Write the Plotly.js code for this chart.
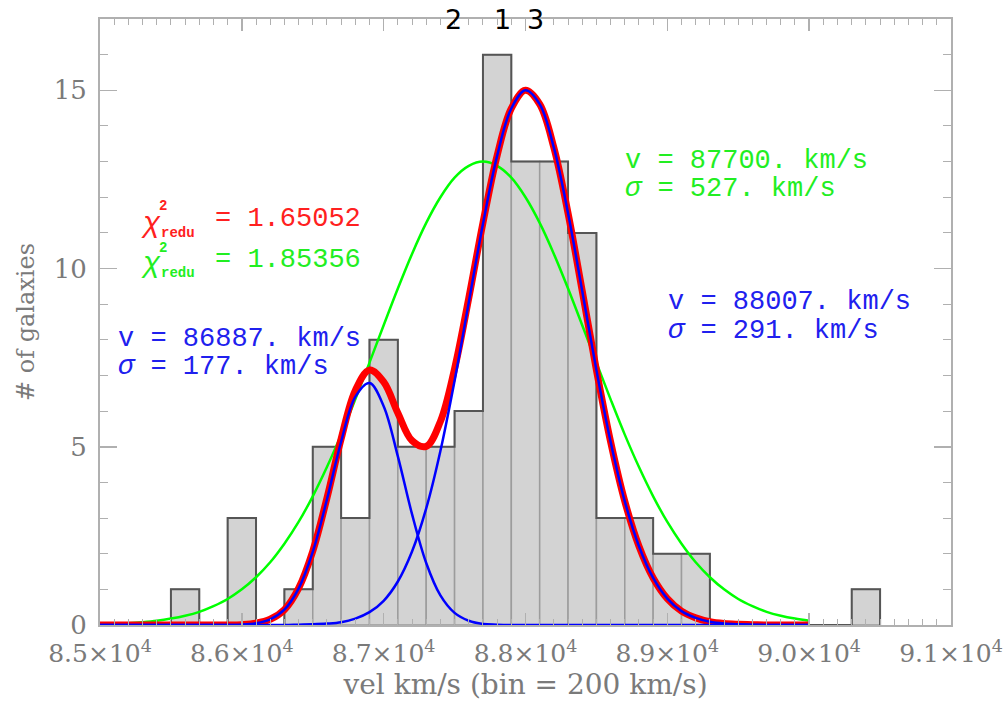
<!DOCTYPE html>
<html>
<head>
<meta charset="utf-8">
<script src="https://cdn.plot.ly/plotly-3.0.1.min.js"></script>
<style>html,body{margin:0;padding:0;background:#fff;}#chart{width:1005px;height:701px;}</style>
</head>
<body>
<div id="chart"></div>
<script>
// ---- histogram data (bin = 200 km/s) ----
const binCenters = [85600,85800,86000,86200,86400,86600,86800,87000,87200,87400,87600,87800,88000,88200,88400,88600,88800,89000,89200,89400,89600,89800,90000,90200,90400];
const counts = [1,0,3,0,1,5,3,8,5,5,6,16,13,13,11,3,3,2,2,0,0,0,0,0,1];
const binWidth = 200;

// ---- fitted curves (km/s grid) ----
const vel = [85000,85100,85200,85300,85400,85500,85600,85700,85800,85900,86000,86100,86200,86300,86400,86500,86600,86700,86800,86900,87000,87100,87200,87300,87400,87500,87600,87700,87800,87900,88000,88100,88200,88300,88400,88500,88600,88700,88800,88900,89000,89100,89200,89300,89400,89500,89600,89700,89800,89900,90000];
const greenFit = [0.02,0.03,0.05,0.08,0.12,0.18,0.26,0.37,0.53,0.73,1.00,1.34,1.76,2.28,2.89,3.61,4.43,5.34,6.33,7.36,8.41,9.44,10.41,11.28,12.00,12.55,12.88,13.00,12.88,12.55,12.00,11.28,10.41,9.44,8.41,7.36,6.33,5.34,4.43,3.61,2.89,2.28,1.76,1.34,1.00,0.73,0.53,0.37,0.26,0.18,0.12];
const blue1Fit = [0,0,0,0,0,0,0,0,0,0,0.01,0.05,0.16,0.43,1.02,2.05,3.52,5.14,6.40,6.79,6.14,4.73,3.11,1.74,0.83,0.34,0.12,0.03,0.01,0,0,0,0,0,0,0,0,0,0,0,0,0,0,0,0,0,0,0,0,0,0];
const blue2Fit = [0,0,0,0,0,0,0,0,0,0,0,0,0,0,0.01,0.02,0.04,0.08,0.18,0.36,0.68,1.22,2.06,3.27,4.88,6.85,9.05,11.25,13.16,14.49,15.00,14.61,13.39,11.55,9.37,7.15,5.14,3.47,2.21,1.32,0.74,0.39,0.20,0.09,0.04,0.02,0.01,0,0,0,0];
const redFit = [0,0,0,0,0,0,0,0,0,0,0.01,0.05,0.16,0.43,1.03,2.07,3.56,5.22,6.58,7.15,6.82,5.95,5.17,5.01,5.71,7.19,9.17,11.28,13.17,14.49,15.00,14.61,13.39,11.55,9.37,7.15,5.14,3.47,2.21,1.32,0.74,0.39,0.20,0.09,0.04,0.02,0.01,0,0,0,0];

// ---- tick labels ----
const xTickVals = [85000,86000,87000,88000,89000,90000,91000];
const xTickText = ['8.5×10<sup>4</sup>','8.6×10<sup>4</sup>','8.7×10<sup>4</sup>','8.8×10<sup>4</sup>','8.9×10<sup>4</sup>','9.0×10<sup>4</sup>','9.1×10<sup>4</sup>'];
const yTickVals = [0,5,10,15];
const yTickText = ['0','5','10','15'];

// ---- marker labels above the plot ----
const markVel = [87493,87838,88071];
const markText = ['2','1','3'];

// outline of histogram (step)
const outX = [binCenters[0]-binWidth/2];
const outY = [0];
binCenters.forEach((c,i)=>{ outX.push(c-binWidth/2); outY.push(counts[i]); });
outX.push(binCenters[binCenters.length-1]+binWidth/2); outY.push(0);

const traces = [
  {type:'bar', x:binCenters, y:counts, width:binWidth, marker:{color:'#d3d3d3', line:{color:'#9c9c9c', width:1.5}}, hoverinfo:'skip'},
  {type:'scatter', mode:'lines', x:outX, y:outY, line:{shape:'hv', color:'#555555', width:2}, hoverinfo:'skip'},
  {type:'scatter', mode:'lines', x:vel, y:greenFit, line:{shape:'spline', color:'#00ff00', width:2.5}},
  {type:'scatter', mode:'lines', x:vel, y:redFit, line:{shape:'spline', color:'#ff0000', width:7}},
  {type:'scatter', mode:'lines', x:vel, y:blue1Fit, line:{shape:'spline', color:'#0000ff', width:2.5}},
  {type:'scatter', mode:'lines', x:vel, y:blue2Fit, line:{shape:'spline', color:'#0000ff', width:2.5}}
];

const L=100, R=951, T=19, B=625.5;
const px = x => (x-L)/(R-L);
const py = y => (B-y)/(B-T);
const mono = 'Liberation Mono, Courier New, monospace';
function txt(x,y,text,color,size,extra){
  return Object.assign({xref:'paper', yref:'paper', x:px(x), y:py(y), xanchor:'left', yanchor:'middle', text:text, showarrow:false, font:{family:mono, size:size, color:color}}, extra||{});
}
const annotations = [
  // chi^2 red
  txt(139,225,'<i>χ</i>','#ff2020',29),
  txt(157,206,'<b>2</b>','#ff2020',14),
  txt(159,233,'<b>redu</b>','#ff2020',14),
  txt(213,219,'= 1.65052','#ff2020',27),
  // chi^2 green
  txt(139,265,'<i>χ</i>','#22ee22',29),
  txt(157,248,'<b>2</b>','#22ee22',14),
  txt(159,273,'<b>redu</b>','#22ee22',14),
  txt(213,260,'= 1.85356','#22ee22',27),
  // blue 1
  txt(116,339,'v = 86887. km/s','#2020ee',27),
  txt(116,367,'<i>σ</i> = 177. km/s','#2020ee',27),
  // green
  txt(623,161,'v = 87700. km/s','#22ee22',27),
  txt(623,189,'<i>σ</i> = 527. km/s','#22ee22',27),
  // blue 2
  txt(666,302,'v = 88007. km/s','#2020ee',27),
  txt(666,331,'<i>σ</i> = 291. km/s','#2020ee',27)
];
markVel.forEach((v,i)=>{
  annotations.push({xref:'x', yref:'paper', x:v, y:py(20), xanchor:'center', yanchor:'middle', text:markText[i], showarrow:false, font:{family:'DejaVu Sans', size:27, color:'#000'}});
});

const axisCommon = {showgrid:false, zeroline:false, showline:true, linecolor:'#b0b0b0', linewidth:2, mirror:'allticks', ticks:'inside', tickcolor:'#b0b0b0', tickwidth:1.5};
const layout = {
  width:1005, height:701,
  margin:{l:L, r:1005-R, t:T, b:701-B},
  paper_bgcolor:'#fff', plot_bgcolor:'#fff',
  showlegend:false, bargap:0,
  xaxis: Object.assign({}, axisCommon, {
    range:[85000,91000], tickvals:xTickVals, ticktext:xTickText, ticklen:12,
    minor:{dtick:100, tick0:85000, ticklen:6, ticks:'inside', tickcolor:'#b0b0b0', tickwidth:1},
    tickfont:{family:'DejaVu Serif', size:25, color:'#7a7a7a'},
    ticklabelstandoff:5,
    title:{text:'vel km/s (bin = 200 km/s)', font:{family:'DejaVu Serif', size:28, color:'#7a7a7a'}, standoff:14}
  }),
  yaxis: Object.assign({}, axisCommon, {
    range:[0,17], tickvals:yTickVals, ticktext:yTickText, ticklen:17,
    minor:{dtick:1, tick0:0, ticklen:8, ticks:'inside', tickcolor:'#b0b0b0', tickwidth:1},
    tickfont:{family:'DejaVu Serif', size:26, color:'#7a7a7a'},
    ticklabelstandoff:6,
    title:{text:'# of galaxies', font:{family:'DejaVu Serif', size:24, color:'#7a7a7a'}, standoff:12}
  }),
  annotations: annotations
};
Plotly.newPlot('chart', traces, layout, {displayModeBar:false, staticPlot:true});
</script>
</body>
</html>
